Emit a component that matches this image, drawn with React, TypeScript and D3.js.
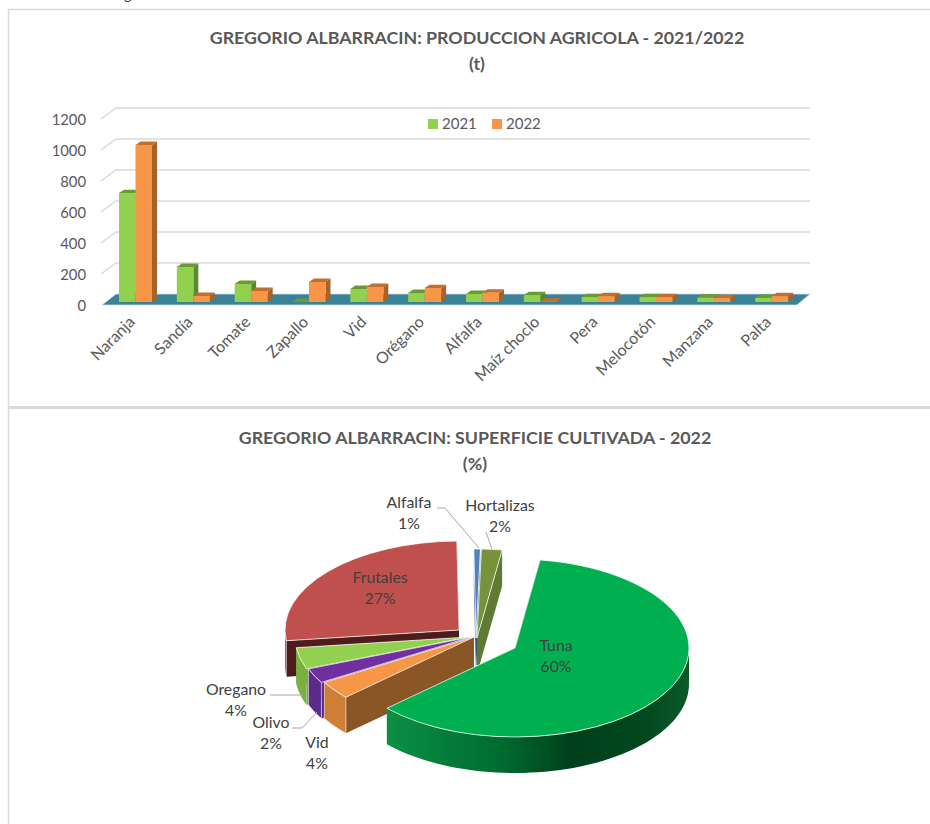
import React from 'react'
import * as d3 from 'd3'

// top chart: production in tonnes
const crops = ['Naranja', 'Sandía', 'Tomate', 'Zapallo', 'Vid', 'Orégano', 'Alfalfa', 'Maíz choclo', 'Pera', 'Melocotón', 'Manzana', 'Palta']
const prod2021 = [703, 226, 116, 0, 84, 58, 52, 45, 32, 32, 28, 26]
const prod2022 = [1013, 39, 71, 129, 97, 90, 60, 2, 38, 32, 25, 38]
const years = ['2021', '2022']

// bottom chart: cultivated area, painted back to front
const pieNames = ['Tuna', 'Vid', 'Olivo', 'Oregano', 'Frutales', 'Alfalfa', 'Hortalizas']
const pieShares = [60.8, 3.3, 2.7, 3.9, 26.7, 0.6, 1.9]
const pieLabels = ['60%', '4%', '2%', '4%', '27%', '1%', '2%']
const paintOrder = ['Frutales', 'Alfalfa', 'Hortalizas', 'Oregano', 'Olivo', 'Vid', 'Tuna']

const barStyles = [
  { front: '#92d050', top: '#689a35', side: '#5a8a2c' },
  { front: '#f79646', top: '#c0702e', side: '#a5622b' },
]

const sliceStyle: Record<string, any> = {
  Tuna: { top: '#00b050', cut: '#00602c', rim: 'url(#tunaSide)', cx: 515, cy: 648, edge: 0 },
  Vid: { top: '#f79646', cut: '#8b5626', rim: '#cf7f35', cx: 474, cy: 637, edge: 0.8 },
  Olivo: { top: '#7030a0', cut: '#5c2a88', rim: '#5c2a88', cx: 471, cy: 637, edge: 0.8 },
  Oregano: { top: '#92d050', cut: '#7ab040', rim: '#7ab040', cx: 469, cy: 637, edge: 0 },
  Frutales: { top: '#c0504d', cut: '#4f1c1c', rim: '#4f1c1c', cx: 459, cy: 630, edge: 0.8 },
  Alfalfa: { top: '#4f81bd', cut: '#31547d', rim: '#31547d', cx: 476, cy: 638, edge: 0 },
  Hortalizas: { top: '#76923c', cut: '#5f7a32', rim: '#5f7a32', cx: 477, cy: 638, edge: 0 },
}

const labelSpots: Record<string, [number, number]> = {
  Tuna: [556, 651],
  Vid: [317, 748],
  Olivo: [271, 728],
  Oregano: [236, 695],
  Frutales: [380, 583],
  Alfalfa: [409, 508],
  Hortalizas: [500, 511],
}

const leaders = [
  [[437, 508], [445, 508], [479, 548]],
  [[486, 532], [492, 549]],
  [[270, 695], [303, 695]],
  [[292, 728], [302, 728], [317, 712]],
]

const FONT = 'Lato, "Open Sans", sans-serif'
const GRID = '#d9d9d9'
const TEXT = '#595959'

const rx = 174
const ry = 89
const depth = 36
const barDx = 5
const barDy = 3.4

const xBand = d3.scaleBand<string>().domain(crops).range([103, 797])
const yGrid = d3.scaleLinear().domain([0, 1200]).range([294, 108])
const yBar = d3.scaleLinear().domain([0, 1200]).range([302, 116])
const yTick = d3.scaleLinear().domain([0, 1200]).range([305, 119])
const line = d3.line()

function project(cx: number, cy: number, a: number): [number, number] {
  return [cx + rx * Math.sin(a), cy - ry * Math.cos(a)]
}

function Bars() {
  const seriesList = [prod2021, prod2022]
  const barW = 16.5
  return (
    <g>
      {crops.map((c, i) =>
        seriesList.map((vals, s) => {
          const x = (xBand(c) as number) + 16 + s * barW
          const y0 = yBar(0)
          const y1 = yBar(vals[i])
          const st = barStyles[s]
          return (
            <g key={c + s}>
              <path fill={st.side} d={line([[x + barW, y1], [x + barW + barDx, y1 - barDy], [x + barW + barDx, y0 - barDy], [x + barW, y0]]) + 'Z'} />
              <path fill={st.top} d={line([[x, y1], [x + barDx, y1 - barDy], [x + barW + barDx, y1 - barDy], [x + barW, y1]]) + 'Z'} />
              {vals[i] > 0 && <rect x={x} y={y1} width={barW} height={y0 - y1} fill={st.front} />}
            </g>
          )
        })
      )}
    </g>
  )
}

function BarChart() {
  const floorY = yGrid(0)
  return (
    <g fontFamily={FONT}>
      <text x={477} y={44} textAnchor="middle" fontSize={17.8} fontWeight={700} fill={TEXT}>GREGORIO ALBARRACIN: PRODUCCION AGRICOLA - 2021/2022</text>
      <text x={477} y={70} textAnchor="middle" fontSize={17.8} fontWeight={700} fill={TEXT}>(t)</text>
      {yGrid.ticks(6).filter(t => t > 0).map(t => (
        <path key={t} fill="none" stroke={GRID} strokeWidth={1.5} d={line([[101, yTick(t)], [116, yGrid(t)], [810, yGrid(t)]]) as string} />
      ))}
      <path fill="#3a8299" stroke="#cfe0e6" strokeWidth={0.8} d={line([[102, yTick(0)], [116, floorY], [810, floorY], [797, yTick(0)]]) + 'Z'} />
      <Bars />
      {yTick.ticks(6).map(t => (
        <text key={t} x={86} y={yTick(t) + 0.5} dy="0.35em" textAnchor="end" fontSize={14.8} fill={TEXT}>{t}</text>
      ))}
      {crops.map(c => {
        const x = (xBand(c) as number) + xBand.bandwidth() / 2 + 4
        return (
          <text key={c} transform={`translate(${x},323) rotate(-45)`} textAnchor="end" fontSize={16} fill={TEXT}>{c}</text>
        )
      })}
      {years.map((yr, i) => (
        <g key={yr} transform={`translate(${428 + i * 64},119)`}>
          <rect width={10} height={10} fill={barStyles[i].front} />
          <text x={14} y={10} fontSize={15} fill={TEXT}>{yr}</text>
        </g>
      ))}
    </g>
  )
}

function PieChart() {
  const pie = d3.pie<number>().sort(null).startAngle((8.3 * Math.PI) / 180).endAngle((368.3 * Math.PI) / 180)
  const arcs = pie(pieShares)
  const arc = d3.arc<any>().innerRadius(0).outerRadius(rx)

  return (
    <g fontFamily={FONT}>
      <defs>
        <linearGradient id="tunaSide" gradientUnits="userSpaceOnUse" x1={386} x2={689} y1={0} y2={0}>
          <stop offset="0" stopColor="#0a9044" />
          <stop offset="0.38" stopColor="#006b30" />
          <stop offset="0.61" stopColor="#003f1c" />
          <stop offset="0.85" stopColor="#00481f" />
          <stop offset="1" stopColor="#0b5a2a" />
        </linearGradient>
      </defs>
      <text x={475} y={444} textAnchor="middle" fontSize={17.8} fontWeight={700} fill={TEXT}>GREGORIO ALBARRACIN: SUPERFICIE CULTIVADA - 2022</text>
      <text x={475} y={470} textAnchor="middle" fontSize={17.8} fontWeight={700} fill={TEXT}>(%)</text>

      {paintOrder.map(name => {
        const d = arcs[pieNames.indexOf(name)]
        const { top, cut, rim, cx, cy, edge } = sliceStyle[name]
        const a0 = d.startAngle
        const a1 = d.endAngle
        // outer wall only shows on the front half of the ellipse
        const w0 = Math.max(a0, Math.PI / 2)
        const w1 = Math.min(a1, (3 * Math.PI) / 2)
        const wallTop = w1 > w0 ? d3.range(0, 61).map(k => project(cx, cy, w0 + ((w1 - w0) * k) / 60)) : []
        const wall = [...wallTop, ...wallTop.slice().reverse().map(p => [p[0], p[1] + depth] as [number, number])]
        const face = (a: number) => {
          const p = project(cx, cy, a)
          return line([[cx, cy], p, [p[0], p[1] + depth], [cx, cy + depth]]) + 'Z'
        }
        return (
          <g key={name}>
            <path d={face(a1)} fill={cut} />
            <path d={face(a0)} fill={cut} />
            {wall.length > 0 && <path d={line(wall) + 'Z'} fill={rim} stroke="#fff" strokeOpacity={0.7} strokeWidth={edge} />}
            <path
              d={arc(d) as string}
              transform={`translate(${cx},${cy}) scale(1,${ry / rx})`}
              fill={top}
              stroke="#fff"
              strokeOpacity={0.75}
              strokeWidth={1}
              vectorEffect="non-scaling-stroke"
            />
          </g>
        )
      })}

      {leaders.map((pts, i) => (
        <path key={i} d={line(pts as [number, number][]) as string} fill="none" stroke="#a6a6a6" strokeWidth={1} />
      ))}

      {pieNames.map((name, i) => {
        const [x, y] = labelSpots[name]
        return (
          <text key={name} textAnchor="middle" fontSize={15.8} fill="#404040">
            <tspan x={x} y={y}>{name}</tspan>
            <tspan x={x} y={y + 21}>{pieLabels[i]}</tspan>
          </text>
        )
      })}
    </g>
  )
}

export default function App() {
  return (
    <svg width={930} height={824} style={{ position: 'absolute', left: 0, top: 0, display: 'block', background: '#fff' }}>
      <text x={124} y={0} fontFamily={FONT} fontSize={14} fill="#333">g</text>
      <path d="M8.5,824V9.5H930" fill="none" stroke={GRID} strokeWidth={1.5} />
      <line x1={8} x2={930} y1={407.5} y2={407.5} stroke={GRID} strokeWidth={3} />
      <BarChart />
      <PieChart />
    </svg>
  )
}
